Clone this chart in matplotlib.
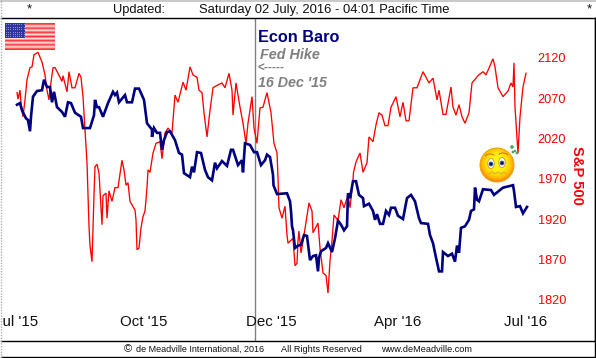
import numpy as np
import matplotlib
matplotlib.use("Agg")
import matplotlib.pyplot as plt
from matplotlib.patches import Circle, Arc, Rectangle, Ellipse
from matplotlib.transforms import Bbox

plt.rcParams['font.family'] = ['Liberation Sans', 'DejaVu Sans']

W, H = 596, 358

tick_days = [0, 63.5, 127, 190.5, 254.5]
tick_labels = ["Jul '15", "Oct '15", "Dec '15", "Apr '16", "Jul '16"]
spx_ticks = [1820, 1870, 1920, 1970, 2020, 2070, 2120]
fed_hike_day = 118.75

spx_days = [
    0, .5, 1.5, 2, 3, 4, 5, 6.5, 7.5, 8.5, 10.5, 12.5, 14, 15, 16, 17, 18, 19, 20.5, 22.5,
    23, 25, 26, 27.5, 29, 31, 32, 33, 34, 35, 35.5, 36, 36.5, 37.5, 38, 38.5, 39, 40, 41, 41.5,
    42.5, 43, 44.5, 45, 46, 47.5, 49, 50.5, 52.5, 53.5, 54.5, 55.5, 56.5, 59, 59.5, 60, 61, 62, 63, 64,
    65, 65.5, 66.5, 68, 69.5, 71.5, 72.5, 74, 75.5, 77.5, 78, 79, 80.5, 83, 84.5, 86.5, 88, 90, 91, 92.5,
    93.5, 95, 96.5, 98, 100, 102.5, 104, 106, 107.5, 108, 109.5, 111.5, 113, 114.5, 115.5, 117.5, 118.5, 120, 121.5, 123,
    125, 127, 128.5, 130, 130.5, 130.75, 131, 132.5, 134, 135, 135.5, 138, 139, 140, 140.5, 141, 142, 143.5, 146, 147.5,
    148, 150.5, 151.5, 153, 154.5, 155.5, 156.5, 157.5, 158.5, 160.5, 162, 163.5, 165.5, 166.5, 168, 168.25, 169.5, 171.5, 173, 175,
    176, 178, 179.5, 181, 182.5, 184, 185.5, 187, 188, 189.5, 191.5, 193, 194.5, 196, 198, 200, 203, 206, 208, 210,
    211, 213, 214.5, 217, 218, 219.5, 221, 222.5, 224, 226, 227.5, 230.5, 233, 234.5, 238, 239, 240.5, 243, 245.5, 247,
    248, 248.5, 249, 250.5, 251.5, 253, 254.5]
spx_vals = [
    2077, 2069, 2080, 2064, 2047, 2068, 2093, 2108, 2109, 2124, 2127, 2115, 2099, 2080, 2068, 2090, 2108, 2108, 2101, 2091,
    2098, 2078, 2103, 2083, 2083, 2101, 2096, 2072, 2031, 1990, 1952, 1911, 1887, 1867, 1909, 1950, 1985, 1988, 1977, 1955,
    1913, 1949, 1952, 1921, 1955, 1942, 1959, 1959, 1993, 1981, 1962, 1965, 1942, 1931, 1919, 1882, 1884, 1909, 1923, 1930,
    1959, 1981, 1978, 2002, 2014, 2016, 1995, 2027, 2033, 2027, 2043, 2074, 2065, 2090, 2080, 2109, 2099, 2096, 2080, 2077,
    2052, 2022, 2055, 2083, 2086, 2089, 2083, 2101, 2080, 2049, 2089, 2059, 2039, 2014, 2039, 2072, 2033, 2014, 2058, 2059,
    2077, 2052, 2014, 2002, 1972, 1950, 1934, 1921, 1936, 1900, 1890, 1896, 1862, 1865, 1893, 1905, 1878, 1900, 1940, 1930,
    1903, 1915, 1884, 1853, 1850, 1828, 1868, 1893, 1925, 1918, 1944, 1934, 1950, 1934, 1968, 1978, 1991, 2002, 1978, 1990,
    2022, 2016, 2037, 2052, 2049, 2036, 2036, 2059, 2064, 2072, 2047, 2065, 2042, 2042, 2083, 2083, 2103, 2089, 2095, 2068,
    2080, 2050, 2050, 2084, 2059, 2049, 2062, 2047, 2039, 2052, 2089, 2098, 2103, 2099, 2119, 2109, 2083, 2072, 2079, 2089,
    2084, 2114, 2059, 2002, 2047, 2084, 2101]

baro_days = [
    0, 1.5, 2.5, 4.5, 5.5, 6.5, 7, 8, 10, 12.5, 13.5, 15, 16.5, 17.5, 18.5, 20, 22.5, 24, 25.5, 27,
    29, 32, 33, 36.5, 38.5, 39, 40, 41, 43, 45.5, 48, 49, 50, 51, 54, 55, 57.5, 59, 61, 63.5,
    65, 67.5, 67.5, 68.5, 70, 71.5, 72.5, 73.5, 75, 76.5, 79, 81, 82.5, 83.5, 86.5, 87.5, 88.5, 90, 92, 94,
    95.5, 97.5, 99, 100, 102.5, 105, 107, 108, 110.5, 112.5, 113, 114, 116.5, 118.5, 120, 122, 124, 125, 126.5, 128,
    128.25, 130, 135, 136.5, 137, 137.5, 138, 139, 140.5, 142, 143.5, 145, 146.5, 148, 149.5, 150.5, 151, 152, 154.5, 155.5,
    157.5, 159, 160.5, 162, 163.5, 165, 165.5, 166.5, 168, 169.5, 171, 173, 173.5, 176, 178, 179, 180, 181.5, 183, 184.5,
    186, 187, 189, 190.5, 193, 195, 197, 199, 201, 202, 205.5, 206.5, 208, 209.5, 211, 212.5, 213, 215.5, 217.5, 219,
    220, 221, 222, 224, 226, 227, 228.5, 229, 230, 231, 233, 237, 238.5, 243, 248, 248.5, 249.5, 251.5, 253, 255]
baro_vals = [
    2062, 2064, 2055, 2045, 2043, 2029, 2047, 2072, 2079, 2080, 2093, 2084, 2084, 2065, 2078, 2059, 2053, 2047, 2065, 2064,
    2052, 2047, 2033, 2033, 2049, 2068, 2059, 2059, 2047, 2064, 2078, 2074, 2077, 2065, 2074, 2065, 2065, 2082, 2082, 2068,
    2039, 2031, 2022, 2033, 2027, 2027, 2006, 2018, 2028, 2029, 2018, 2002, 2000, 1977, 1972, 1985, 1978, 2003, 2002, 1981,
    1972, 1968, 1990, 1983, 1992, 1986, 2006, 2006, 1987, 1993, 1978, 2014, 2012, 2003, 2003, 1987, 1993, 2000, 1997, 1975,
    1962, 1951, 1952, 1942, 1930, 1911, 1906, 1884, 1887, 1888, 1900, 1899, 1869, 1874, 1875, 1855, 1872, 1880, 1884, 1890,
    1879, 1896, 1918, 1913, 1906, 1911, 1952, 1946, 1967, 1967, 1950, 1946, 1936, 1939, 1930, 1919, 1926, 1914, 1914, 1930,
    1925, 1934, 1934, 1924, 1920, 1946, 1950, 1942, 1921, 1915, 1914, 1900, 1890, 1872, 1855, 1855, 1879, 1874, 1877, 1867,
    1887, 1878, 1909, 1911, 1919, 1930, 1932, 1959, 1944, 1942, 1957, 1956, 1950, 1959, 1962, 1955, 1935, 1936, 1927, 1935]

NAVY = '#000080'
RED = '#ff0000'
GRAY = '#808080'
INK = '#111111'

fig = plt.figure(figsize=(W / 100, H / 100), dpi=100, facecolor='white')


def px_axes(x0, y0, x1, y1, **kw):
    return fig.add_axes([x0 / W, 1 - y1 / H, (x1 - x0) / W, (y1 - y0) / H], **kw)


ax = px_axes(1, 18, 594.5, 340.5)
ax.set_xlim(-8, 288.75)
ax.set_ylim(2120 - (340.5 - 58) * 1.242, 2120 + 40 * 1.242)
ax.patch.set_visible(False)

ax.axvline(fed_hike_day, color=GRAY, lw=1, zorder=1)
ax.plot(spx_days, spx_vals, color=RED, lw=0.95, zorder=2, solid_joinstyle='miter')
ax.plot(baro_days, baro_vals, color=NAVY, lw=1.9, zorder=3, solid_joinstyle='miter')

ax.set_xticks(tick_days, tick_labels)
ax.yaxis.tick_right()
ax.set_yticks(spx_ticks, [str(t) for t in spx_ticks])
ax.tick_params(axis='x', length=0, pad=-18.5, labelsize=10.8, labelcolor=INK)
ax.tick_params(axis='y', length=0, pad=-41, labelsize=9.2, labelcolor=RED)
fig.canvas.draw()
ax.get_xticklabels()[0].set_clip_box(Bbox([[2.5, 0], [W, H]]))
ax.get_xticklabels()[0].set_clip_on(True)

ax.spines['left'].set_visible(False)
for side in ('top', 'bottom', 'right'):
    ax.spines[side].set_linewidth(1)
    ax.spines[side].set_color('black')


def ftext(x, y, s, **kw):
    kw.setdefault('va', 'center')
    fig.text(x / W, 1 - y / H, s, **kw)


ftext(258, 38, 'Econ Baro', color=NAVY, fontsize=11.7, fontweight='bold')
ftext(260, 55, 'Fed Hike', color=GRAY, fontsize=10.4, fontweight='bold', style='italic')
ftext(258, 69, '<-----', color=GRAY, fontsize=8.5, fontweight='bold')
ftext(258, 83, "16 Dec '15", color=GRAY, fontsize=10.3, fontweight='bold', style='italic')
ftext(577, 175, 'S&P 500', color=RED, fontsize=10.6, fontweight='bold', rotation=270, ha='center')

ftext(29, 9, '*', fontsize=9.5, ha='center', color=INK)
ftext(113, 9.5, 'Updated:', fontsize=9.3, color=INK)
ftext(199, 9.5, 'Saturday 02 July, 2016 - 04:01 Pacific Time', fontsize=9.35, color=INK)
ftext(589, 9, '*', fontsize=9.5, ha='center', color=INK)

ftext(124, 349.5, '\u00a9', fontsize=8, color=INK)
ftext(136, 349.5, 'de Meadville International, 2016', fontsize=6.5, color=INK)
ftext(281, 349.5, 'All Rights Reserved', fontsize=6.6, color=INK)
ftext(381, 349.5, 'www.deMeadville.com', fontsize=6.55, color=INK)

# frame of the page
fig.add_artist(plt.Line2D([1 / W, 595 / W], [1 - 357 / H] * 2, color='black', lw=1))
fig.add_artist(plt.Line2D([594.5 / W] * 2, [1 - 18 / H, 1 - 357 / H], color='black', lw=1))
fig.add_artist(plt.Line2D([0, 1], [1 - 0.5 / H] * 2, color='#c8c8c8', lw=1.4))
fig.add_artist(plt.Line2D([0.5 / W] * 2, [0, 1], color='#b0b0b0', lw=1, ls=(0, (1, 1))))

# flag
flag = px_axes(5, 23, 55, 50)
flag.axis('off')
stripes = np.ones((13, 50, 3))
stripes[::2] = [1.0, 0.2, 0.25]
stripes[1::2] = [1.0, 0.9, 0.88]
flag.imshow(stripes, aspect='auto', interpolation='bilinear', extent=(0, 50, 13, 0))
flag.add_patch(Rectangle((0, 0), 20, 7, color='#2f35a0', lw=0))
sx, sy = np.meshgrid(np.arange(1, 20, 2.2), np.arange(0.7, 7, 1.15))
flag.scatter(sx, sy, s=0.5, c='#8f95d8', lw=0)
flag.set_xlim(0, 50)
flag.set_ylim(13, 0)

# worried face
face = px_axes(476, 141, 526, 189)
face.axis('off')
face.set_xlim(476, 526)
face.set_ylim(189, 141)
cx, cy, r = 497, 165, 17
yy, xx = np.mgrid[141:189:200j, 476:526:200j]
dist = np.hypot(xx - cx, yy - cy + 2) / r
grad = np.zeros(dist.shape + (3,))
grad[..., 0] = 1.0
grad[..., 1] = np.clip(0.97 - 0.36 * dist ** 3, 0, 1)
grad[..., 2] = np.clip(0.12 - 0.12 * dist, 0, 1)
im = face.imshow(grad, extent=(476, 526, 189, 141), aspect='auto', interpolation='bilinear')
im.set_clip_path(Circle((cx, cy), r, transform=face.transData))
face.add_patch(Circle((cx, cy), r, fill=False, ec='#f0a000', lw=0.7))
for ex, ey in ((491, 163.5), (502, 162.5)):
    face.add_patch(Ellipse((ex, ey), 6.5, 10, fc='white', ec='#d08020', lw=0.5))
    face.add_patch(Circle((ex, ey + 0.5), 2.3, fc='#1a4fb0', lw=0))
    face.add_patch(Circle((ex, ey + 0.5), 0.9, fc='black', lw=0))
face.add_patch(Arc((490, 157), 10, 6, theta1=190, theta2=340, ec='#c06010', lw=0.6))
face.add_patch(Arc((503, 156), 10, 6, theta1=200, theta2=350, ec='#c06010', lw=0.6))
face.plot([489, 492, 495, 498, 501, 504, 506], [174, 171.5, 174, 172, 174, 172, 174], color='#d8b030', lw=0.7)
face.scatter([512, 513, 515, 517], [147, 152, 151, 153], s=[7, 4, 3, 4], c='#50a060', lw=0)

fig.savefig('out.png', dpi=100)
